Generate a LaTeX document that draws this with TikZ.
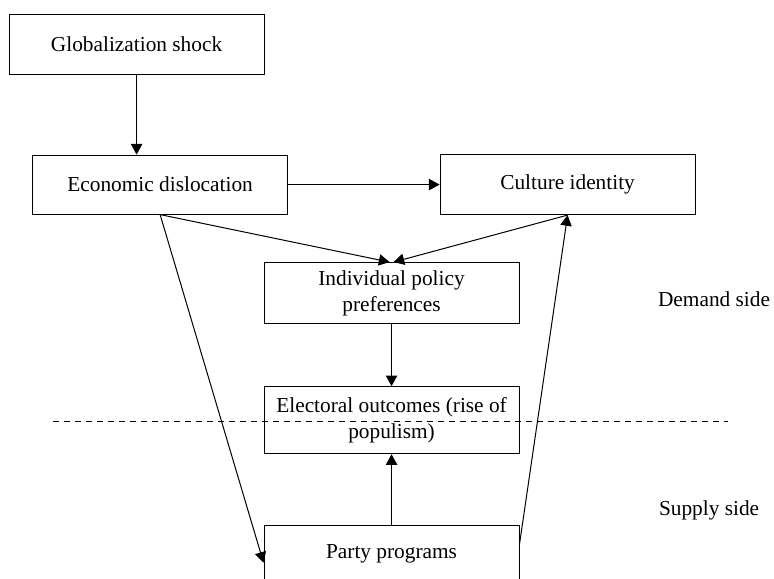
\documentclass[tikz,border=0pt]{standalone}
\usepackage{fontspec}
\setmainfont{Liberation Serif}
\usetikzlibrary{arrows.meta,positioning}
\tikzset
{
    process/.style={rectangle, minimum width=191.25pt, minimum height=45pt, align=flush center, text width=180pt, inner xsep=5.625pt, draw, line width=0.75pt},
    sidelabel/.style={align=center},
    arrow/.style={line width=0.75pt, -{Triangle[length=8pt,width=8.5pt]}},
    divider/.style={line width=0.75pt, dash pattern=on 4.5pt off 3.75pt}
}

\begin{document}
\begin{tikzpicture}[font=\fontsize{16}{19.5}\selectfont]
	\useasboundingbox (0,0) rectangle (20.40,-15.26);
	\clip (0,0) rectangle (20.40,-15.26);
	\node (glob) [process] at (3.60,-1.16) {Globalization shock};
	\node (econ) [process, below of=glob, xshift=0.62cm, yshift=-2.705cm, minimum height=44.25pt] {Economic dislocation};
	\node (cult) [process, right of=econ, xshift=9.74cm] {Culture identity};
	\node (indiv) [process, below of=cult, xshift=-4.64cm, yshift=-1.86cm, minimum height=45.75pt] {Individual policy preferences};
	\node (elect) [process, below of=indiv, yshift=-2.35cm, minimum height=50.25pt] {Electoral outcomes (rise of populism)};
	\node (party) [process, below of=elect, yshift=-2.52cm, minimum height=42pt] {Party programs};
	\node (demand) [sidelabel, right of=indiv, xshift=7.5cm, yshift=-0.17cm] {Demand side};
	\node (supply) [sidelabel, right of=party, xshift=7.37cm, yshift=1.14cm] {Supply side};

	\coordinate (divL) at (1.40,-11.12);
	\coordinate (divR) at (19.19,-11.12);
	\draw [divider] (divL) -- (divR);

	\draw [arrow] (glob.south) -- (glob.south |- econ.north);
	\draw [arrow] (econ.east) -- (econ.east -| cult.west);
	\draw [arrow] (econ.south) -- ([xshift=-1.5pt]indiv.north);
	\draw [arrow] (cult.south) -- ([xshift=1.5pt]indiv.north);
	\draw [arrow] (econ.south) -- ([yshift=-6.75pt]party.west);
	\draw [arrow] ([yshift=7.5pt]party.east) -- (cult.south);
	\draw [arrow] (indiv) -- (elect);
	\draw [arrow] (party) -- (elect);
\end{tikzpicture}
\end{document}
